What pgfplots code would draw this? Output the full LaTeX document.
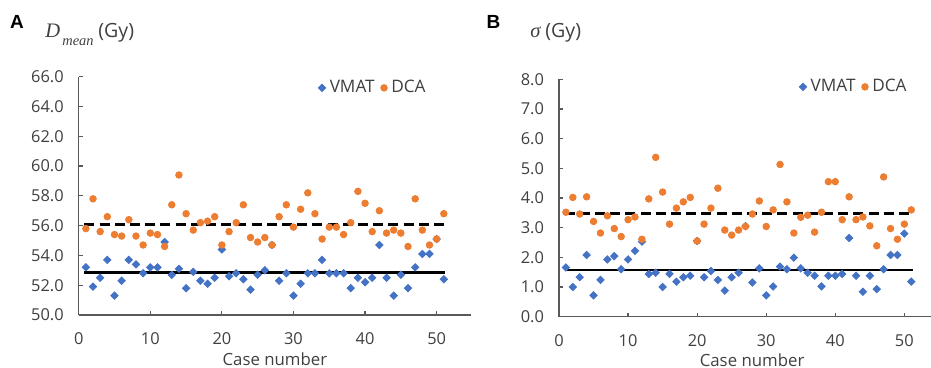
\documentclass[border=0pt]{standalone}
\usepackage{pgfplots}
\pgfplotsset{compat=1.18}
\usepackage{fontspec}
\setmainfont{Open Sans}
\newfontfamily\tnr{Liberation Serif}
\newfontfamily\arialb{Liberation Sans}
\definecolor{vmat}{HTML}{4472C4}
\definecolor{dca}{HTML}{ED7D31}
\definecolor{txt}{HTML}{404040}
\definecolor{axl}{HTML}{595959}
\pgfplotsset{
  myaxis/.style={
    scale only axis, axis x line=bottom, axis y line=left,
    axis line style={-, axl, line width=0.6pt},
    tick align=inside, major tick length=2pt, tick style={axl, line width=0.6pt},
    xmin=0, xtick={0,10,...,50},
    enlargelimits=false,
    /pgf/number format/assume math mode=true,
    ticklabel style={font=\fontsize{8.2}{9}\selectfont, text=txt},
    xticklabel style={yshift=-5.5pt},
    yticklabel style={xshift=-4pt, /pgf/number format/fixed, /pgf/number format/fixed zerofill, /pgf/number format/precision=1},
    xlabel={Case number},
    label style={font=\fontsize{8.4}{9}\selectfont, text=txt},
    legend columns=2,
    legend style={draw=none, fill=none, inner sep=0pt, font=\fontsize{8.6}{9}\selectfont, text=txt, anchor=west,
      /tikz/every even column/.append style={column sep=1pt}},
    legend image code/.code={\draw[mark repeat=2,mark phase=2,##1] plot coordinates {(0pt,0pt) (1.8pt,0pt) (3.6pt,0pt)};},
  },
  vm/.style={only marks, mark=square*, mark size=1.3pt, color=vmat, mark options={rotate=45, fill=vmat, draw=vmat}},
  dc/.style={only marks, mark=*, mark size=1.65pt, color=dca, mark options={fill=dca, draw=dca}},
}
\begin{document}
\begin{tikzpicture}
\useasboundingbox (0,0) rectangle (465.5pt,184pt);
% Panel A
\begin{axis}[myaxis, at={(39.35pt,26.5pt)}, anchor=south west,
  width=196.15pt, height=119.15pt, xmax=54.8, ymin=50, ymax=66, ytick={50,52,...,66},
  xlabel style={at={(0.5,0)}, anchor=center, yshift=-22pt},
  legend style={at={(0.61,0.953)}}]
\addplot[black, line width=1.3pt, forget plot] coordinates {(0.8,52.84) (51.2,52.84)};
\addplot[black, line width=1.3pt, dash pattern=on 5pt off 2.6pt, forget plot] coordinates {(0.8,56.06) (51.2,56.06)};
\addplot[vm] coordinates {
(1,53.2) (2,51.9) (3,52.5) (4,53.7) (5,51.3) (6,52.3) (7,53.7) (8,53.4) (9,52.8) (10,53.2)
(11,53.2) (12,54.9) (13,52.7) (14,53.1) (15,51.8) (16,52.9) (17,52.3) (18,52.1) (19,52.5) (20,54.4)
(21,52.6) (22,52.8) (23,52.4) (24,51.7) (25,52.7) (26,53.0) (27,54.7) (28,52.3) (29,52.8) (30,51.3)
(31,52.1) (32,52.8) (33,52.8) (34,53.7) (35,52.8) (36,52.8) (37,52.8) (38,51.8) (39,52.5) (40,52.2)
(41,52.5) (42,54.7) (43,52.5) (44,51.3) (45,52.7) (46,51.8) (47,53.2) (48,54.1) (49,54.1) (50,55.1)
(51,52.4)};
\addlegendentry{VMAT}
\addplot[dc] coordinates {
(1,55.8) (2,57.8) (3,55.6) (4,56.6) (5,55.4) (6,55.3) (7,56.4) (8,55.3) (9,54.7) (10,55.5)
(11,55.4) (12,54.6) (13,57.4) (14,59.4) (15,56.8) (16,55.7) (17,56.2) (18,56.3) (19,56.6) (20,54.7)
(21,55.6) (22,56.2) (23,57.4) (24,55.2) (25,54.9) (26,55.2) (27,54.7) (28,56.6) (29,57.4) (30,55.9)
(31,57.1) (32,58.2) (33,56.8) (34,55.1) (35,55.9) (36,55.9) (37,55.4) (38,56.2) (39,58.3) (40,57.5)
(41,55.6) (42,57.0) (43,55.5) (44,55.7) (45,55.5) (46,54.6) (47,57.8) (48,55.7) (49,54.7) (50,55.1)
(51,56.8)};
\addlegendentry{DCA}
\end{axis}
% Panel B
\begin{axis}[myaxis, at={(279.5pt,25.65pt)}, anchor=south west,
  width=186pt, height=118.7pt, xmax=53.86, ymin=0, ymax=8, ytick={0,1,...,8},
  xlabel style={at={(0.519,0)}, anchor=center, yshift=-22pt},
  legend style={at={(0.645,0.968)}}]
\addplot[black, line width=1.3pt, forget plot] coordinates {(0.8,1.57) (51.2,1.57)};
\addplot[black, line width=1.3pt, dash pattern=on 5pt off 2.6pt, forget plot] coordinates {(0.8,3.47) (51.2,3.47)};
\addplot[vm] coordinates {
(1,1.66) (2,1.00) (3,1.33) (4,2.08) (5,0.72) (6,1.24) (7,1.93) (8,2.04) (9,1.60) (10,1.93)
(11,2.22) (12,2.53) (13,1.44) (14,1.48) (15,1.00) (16,1.44) (17,1.18) (18,1.33) (19,1.38) (20,2.55)
(21,1.33) (22,1.54) (23,1.24) (24,0.88) (25,1.33) (26,1.48) (27,3.05) (28,1.15) (29,1.63) (30,0.72)
(31,1.02) (32,1.69) (33,1.60) (34,1.99) (35,1.63) (36,1.48) (37,1.38) (38,1.02) (39,1.38) (40,1.38)
(41,1.44) (42,2.65) (43,1.38) (44,0.84) (45,1.38) (46,0.93) (47,1.60) (48,2.08) (49,2.08) (50,2.80)
(51,1.18)};
\addlegendentry{VMAT}
\addplot[dc] coordinates {
(1,3.52) (2,4.02) (3,3.46) (4,4.04) (5,3.21) (6,2.82) (7,3.40) (8,2.97) (9,2.70) (10,3.27)
(11,3.36) (12,2.61) (13,3.97) (14,5.37) (15,4.20) (16,3.12) (17,3.66) (18,3.87) (19,4.02) (20,2.55)
(21,3.12) (22,3.66) (23,4.33) (24,2.92) (25,2.75) (26,2.92) (27,3.04) (28,3.46) (29,3.90) (30,3.04)
(31,3.60) (32,5.13) (33,3.87) (34,2.82) (35,3.35) (36,3.42) (37,2.85) (38,3.52) (39,4.55) (40,4.55)
(41,3.27) (42,4.04) (43,3.27) (44,3.36) (45,3.06) (46,2.39) (47,4.71) (48,2.97) (49,2.61) (50,3.12)
(51,3.60)};
\addlegendentry{DCA}
\end{axis}
% Titles
\node[font=\arialb\bfseries\fontsize{9.5}{10}\selectfont, text=black] at (8.5pt,173pt) {A};
\node[font=\arialb\bfseries\fontsize{9.5}{10}\selectfont, text=black] at (246.75pt,173.25pt) {B};
\node[anchor=base west, inner sep=0pt, font=\tnr\itshape\fontsize{10.3}{11}\selectfont, text=txt] at (22.5pt,165pt) {D};
\node[anchor=base west, inner sep=0pt, font=\tnr\itshape\fontsize{7.2}{8}\selectfont, text=txt] at (31pt,161.3pt) {mean};
\node[anchor=base west, inner sep=0pt, font=\fontsize{9.8}{10}\selectfont, text=txt] at (49pt,165pt) {(Gy)};
\node[anchor=base west, inner sep=0pt, font=\tnr\itshape\fontsize{10.3}{11}\selectfont, text=txt] at (265pt,165pt) {σ};
\node[anchor=base west, inner sep=0pt, font=\fontsize{9.8}{10}\selectfont, text=txt] at (272.5pt,165pt) {(Gy)};
\end{tikzpicture}
\end{document}
